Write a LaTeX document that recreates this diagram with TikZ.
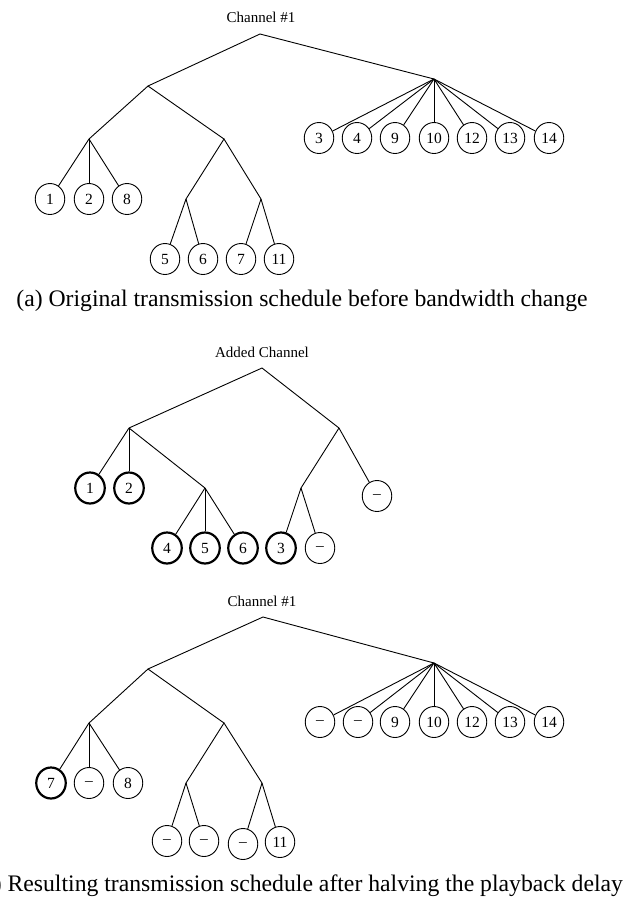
\documentclass[tikz,border=0pt]{standalone}
\usepackage{fontspec}
\setmainfont{Liberation Serif}
\usetikzlibrary{shapes.geometric}
\begin{document}
\begin{tikzpicture}[x=1pt,y=-1pt,
  slot/.style={draw, ellipse, minimum width=29.5pt, minimum height=31pt, inner sep=0pt,
               line width=0.9pt, font=\fontsize{15.5}{15.5}\selectfont},
  sent/.style={slot, line width=2.2pt},
  branch/.style={line width=0.9pt},
  chan/.style={font=\fontsize{15}{15}\selectfont},
  subcap/.style={font=\fontsize{23.7}{24}\selectfont, anchor=base}]
\useasboundingbox (0,0) rectangle (630,898);

% ---------- (a) original schedule on channel #1 ----------
\node[chan] (tA) at (261,17) {Channel \#1};
\coordinate (rA) at (260,34);
\coordinate (lA) at (148,86);
\coordinate (hA) at (434,79);
\coordinate (llA) at (89,139);
\coordinate (lrA) at (224,139);
\coordinate (lrlA) at (186,199);
\coordinate (lrrA) at (261,199);

\node[slot] (a1) at (50,199) {1};
\node[slot] (a2) at (89,199) {2};
\node[slot] (a8) at (127,199) {8};
\node[slot] (a5) at (165,259) {5};
\node[slot] (a6) at (203,259) {6};
\node[slot] (a7) at (241,259) {7};
\node[slot] (a11) at (279,259) {11};
\node[slot] (a3) at (319,138) {3};
\node[slot] (a4) at (357,138) {4};
\node[slot] (a9) at (395,138) {9};
\node[slot] (a10) at (434,138) {10};
\node[slot] (a12) at (472,138) {12};
\node[slot] (a13) at (510,138) {13};
\node[slot] (a14) at (549,138) {14};

\draw[branch] (lA) -- (rA) -- (hA);
\draw[branch] (llA) -- (lA) -- (lrA);
\draw[branch] (llA) -- (a1);
\draw[branch] (llA) -- (a2);
\draw[branch] (llA) -- (a8);
\draw[branch] (lrlA) -- (lrA) -- (lrrA);
\draw[branch] (lrlA) -- (a5);
\draw[branch] (lrlA) -- (a6);
\draw[branch] (lrrA) -- (a7);
\draw[branch] (lrrA) -- (a11);
\foreach \k in {3,4,9,10,12,13,14} \draw[branch] (hA) -- (a\k);

\node[subcap] (capA) at (302,306) {(a) Original transmission schedule before bandwidth change};

% ---------- (b) added channel ----------
\node[chan] (tB) at (262,352) {Added Channel};
\coordinate (rB) at (262,368);
\coordinate (lB) at (129,428);
\coordinate (hB) at (339,428);
\coordinate (lmB) at (205,488);
\coordinate (rlB) at (301,488);

\node[sent] (b1) at (90,488) {1};
\node[sent] (b2) at (129,488) {2};
\node[sent] (b4) at (167,548) {4};
\node[sent] (b5) at (205,548) {5};
\node[sent] (b6) at (243,548) {6};
\node[sent] (b3) at (281,548) {3};
\node[slot] (bx1) at (320,548) {\textendash};
\node[slot] (bx2) at (377,496) {\textendash};

\draw[branch] (lB) -- (rB) -- (hB);
\draw[branch] (lB) -- (b1);
\draw[branch] (lB) -- (b2);
\draw[branch] (lB) -- (lmB);
\draw[branch] (lmB) -- (b4);
\draw[branch] (lmB) -- (b5);
\draw[branch] (lmB) -- (b6);
\draw[branch] (hB) -- (rlB);
\draw[branch] (hB) -- (bx2);
\draw[branch] (rlB) -- (b3);
\draw[branch] (rlB) -- (bx1);

% ---------- (b) channel #1 after halving the delay ----------
\node[chan] (tC) at (262,601) {Channel \#1};
\coordinate (rC) at (263,617);
\coordinate (lC) at (148,669);
\coordinate (hC) at (434,663);
\coordinate (llC) at (89,723);
\coordinate (lrC) at (224,723);
\coordinate (lrlC) at (186,783);
\coordinate (lrrC) at (262,783);

\node[sent] (c7) at (51,783) {7};
\node[slot] (cx1) at (89,783) {\textendash};
\node[slot] (c8) at (128,783) {8};
\node[slot] (cx2) at (167,841) {\textendash};
\node[slot] (cx3) at (204,841) {\textendash};
\node[slot] (cx4) at (243,844) {\textendash};
\node[slot] (c11) at (280,842) {11};
\node[slot] (cx5) at (320,722) {\textendash};
\node[slot] (cx6) at (358,722) {\textendash};
\node[slot] (c9) at (395,722) {9};
\node[slot] (c10) at (434,722) {10};
\node[slot] (c12) at (472,722) {12};
\node[slot] (c13) at (510,722) {13};
\node[slot] (c14) at (549,722) {14};

\draw[branch] (lC) -- (rC) -- (hC);
\draw[branch] (llC) -- (lC) -- (lrC);
\draw[branch] (llC) -- (c7);
\draw[branch] (llC) -- (cx1);
\draw[branch] (llC) -- (c8);
\draw[branch] (lrlC) -- (lrC) -- (lrrC);
\draw[branch] (lrlC) -- (cx2);
\draw[branch] (lrlC) -- (cx3);
\draw[branch] (lrrC) -- (cx4);
\draw[branch] (lrrC) -- (c11);
\foreach \k in {x5,x6,9,10,12,13,14} \draw[branch] (hC) -- (c\k);

\node[subcap] (capB) at (298.5,891) {(b) Resulting transmission schedule after halving the playback delay};
\end{tikzpicture}
\end{document}
